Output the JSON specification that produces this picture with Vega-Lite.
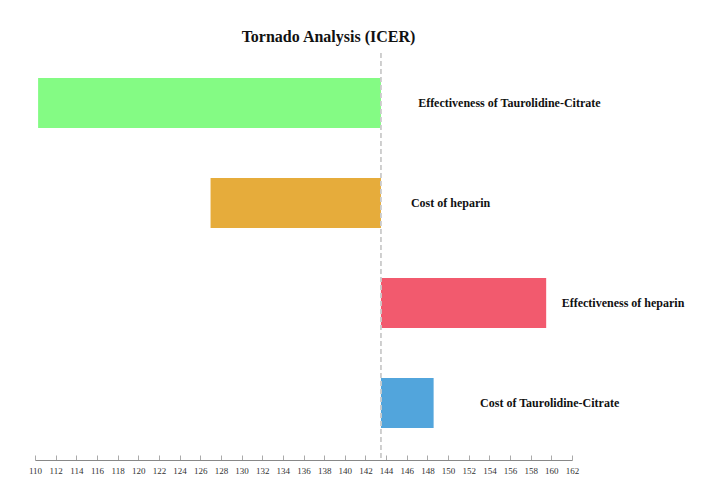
{
  "$schema": "https://vega.github.io/schema/vega-lite/v6.json",
  "width": 537,
  "height": 407,
  "autosize": {"type": "none"},
  "padding": {"left": 35, "top": 53, "right": 134, "bottom": 31},
  "background": "white",
  "title": {
    "text": "Tornado Analysis (ICER)",
    "font": "Liberation Serif",
    "fontSize": 16,
    "fontWeight": "bold",
    "color": "#111111",
    "anchor": "middle",
    "dx": 25,
    "dy": 15,
    "offset": 10,
    "baseline": "alphabetic"
  },
  "data": {
    "values": [
      {"factor": "Effectiveness of Taurolidine-Citrate", "low": 110.3, "high": 143.5, "labelAt": 147.1},
      {"factor": "Cost of heparin", "low": 127.0, "high": 143.5, "labelAt": 146.4},
      {"factor": "Effectiveness of heparin", "low": 143.5, "high": 159.5, "labelAt": 161.0},
      {"factor": "Cost of Taurolidine-Citrate", "low": 143.5, "high": 148.6, "labelAt": 153.1}
    ]
  },
  "encoding": {
    "y": {
      "field": "factor",
      "type": "nominal",
      "sort": null,
      "scale": {"paddingInner": 0.5, "paddingOuter": 0.285, "align": 0.44},
      "axis": null
    }
  },
  "layer": [
    {
      "mark": {"type": "bar", "cornerRadius": 0},
      "encoding": {
        "x": {
          "field": "low",
          "type": "quantitative",
          "scale": {"domain": [110, 162], "nice": false, "zero": false},
          "axis": {
            "title": null,
            "values": [110,112,114,116,118,120,122,124,126,128,130,132,134,136,138,140,142,144,146,148,150,152,154,156,158,160,162],
            "grid": false,
            "labelOverlap": false,
            "labelFlush": false,
            "domainColor": "#888888",
            "domainWidth": 1,
            "tickColor": "#aaaaaa",
            "tickSize": -5,
            "labelPadding": 11,
            "labelFont": "Liberation Serif",
            "labelFontSize": 9,
            "labelColor": "#333333"
          }
        },
        "x2": {"field": "high"},
        "color": {
          "field": "factor",
          "type": "nominal",
          "scale": {
            "domain": ["Effectiveness of Taurolidine-Citrate", "Cost of heparin", "Effectiveness of heparin", "Cost of Taurolidine-Citrate"],
            "range": ["#84fb84", "#e6ac3b", "#f25a6e", "#52a5dc"]
          },
          "legend": null
        }
      }
    },
    {
      "mark": {"type": "rule", "color": "#cccccc", "strokeDash": [5, 3], "strokeWidth": 1},
      "encoding": {
        "x": {
          "datum": 143.5,
          "type": "quantitative",
          "axis": {
            "title": null,
            "values": [110,112,114,116,118,120,122,124,126,128,130,132,134,136,138,140,142,144,146,148,150,152,154,156,158,160,162],
            "grid": false,
            "labelOverlap": false,
            "labelFlush": false,
            "domainColor": "#888888",
            "domainWidth": 1,
            "tickColor": "#aaaaaa",
            "tickSize": -5,
            "labelPadding": 11,
            "labelFont": "Liberation Serif",
            "labelFontSize": 9,
            "labelColor": "#333333"
          }
        },
        "y": null
      }
    },
    {
      "mark": {"type": "text", "align": "left", "baseline": "middle", "font": "Liberation Serif", "fontWeight": "bold", "fontSize": 12, "color": "#111111"},
      "encoding": {
        "x": {
          "field": "labelAt",
          "type": "quantitative",
          "axis": {
            "title": null,
            "values": [110,112,114,116,118,120,122,124,126,128,130,132,134,136,138,140,142,144,146,148,150,152,154,156,158,160,162],
            "grid": false,
            "labelOverlap": false,
            "labelFlush": false,
            "domainColor": "#888888",
            "domainWidth": 1,
            "tickColor": "#aaaaaa",
            "tickSize": -5,
            "labelPadding": 11,
            "labelFont": "Liberation Serif",
            "labelFontSize": 9,
            "labelColor": "#333333"
          }
        },
        "text": {"field": "factor"}
      }
    }
  ],
  "config": {"view": {"stroke": null}}
}
